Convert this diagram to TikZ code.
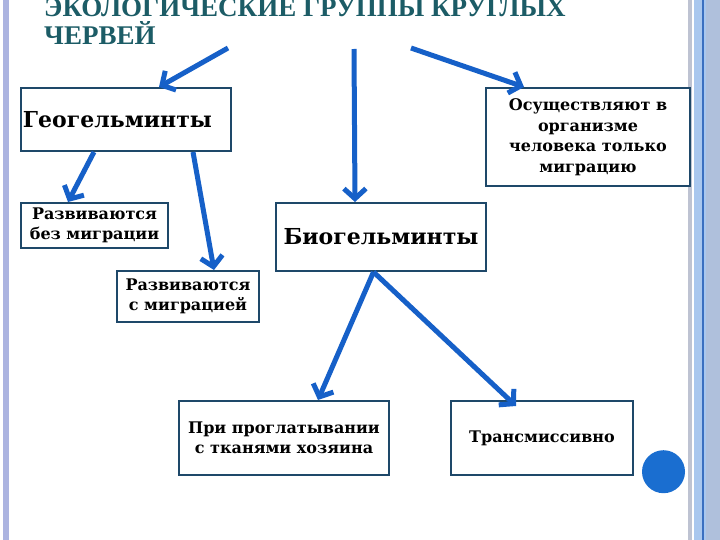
\documentclass[tikz,border=0pt]{standalone}
\usepackage{fontspec}
\setmainfont{DejaVu Serif}
\newfontfamily\titlefont{Liberation Serif}
\usetikzlibrary{arrows.meta,calc}
\definecolor{titlecol}{RGB}{28,92,102}
\definecolor{boxcol}{RGB}{30,72,105}
\definecolor{arrcol}{RGB}{22,96,200}
\definecolor{circcol}{RGB}{26,110,208}
\definecolor{leftstrip}{RGB}{172,180,224}
\definecolor{grayline}{RGB}{190,195,210}
\definecolor{lightblue}{RGB}{169,199,238}
\definecolor{darkline}{RGB}{58,111,192}
\definecolor{grayblue}{RGB}{175,192,220}
\begin{document}
\begin{tikzpicture}[x=1pt,y=-1pt,
  box/.style={draw=boxcol,line width=2pt,fill=white,inner sep=0pt,align=center,
    font=\bfseries\fontsize{16}{20.5}\selectfont},
  bigbox/.style={box,font=\bfseries\fontsize{22}{26}\selectfont},
  arr/.style={draw=arrcol,line width=5pt,-{Straight Barb[length=10pt,width=22pt]}}]
\useasboundingbox (0,0) rectangle (720,540);
\fill[white] (0,0) rectangle (720,540);
% frame strips
\fill[leftstrip] (3,0) rectangle (9,540);
\fill[grayline] (688,0) rectangle (692,540);
\fill[lightblue] (694,0) rectangle (706,540);
\fill[darkline] (702,0) rectangle (703.5,540);
\fill[grayblue] (706,0) rectangle (720,540);
% title (second line's baseline at y=45, first line above it)
\node[anchor=base west,inner sep=0pt,align=left,text=titlecol,
  font=\titlefont\bfseries\fontsize{27}{28}\selectfont] (title) at (44,45)
  {ЭКОЛОГИЧЕСКИЕ ГРУППЫ КРУГЛЫХ\\ЧЕРВЕЙ};
% boxes
\node[bigbox,anchor=north west,text width=206pt,inner xsep=2pt,align=left,
  minimum height=63pt] (geo) at (20,87) {Геогельминты};
\node[box,anchor=north west,minimum width=204pt,minimum height=98pt] (osu) at (485,87)
  {Осуществляют в\\организме\\человека только\\миграцию};
\node[box,anchor=north west,minimum width=147pt,minimum height=45pt] (bez) at (20,202)
  {Развиваются\\без миграции};
\node[bigbox,anchor=north west,minimum width=210pt,minimum height=68pt] (bio) at (275,202)
  {Биогельминты};
\node[box,anchor=north west,minimum width=142pt,minimum height=51pt] (smig) at (116,270)
  {Развиваются\\с миграцией};
\node[box,anchor=north west,minimum width=210pt,minimum height=74pt] (pri) at (178,400)
  {При проглатывании\\с тканями хозяина};
\node[box,anchor=north west,minimum width=182pt,minimum height=74pt] (tr) at (450,400)
  {Трансмиссивно};
% free starting points under the title
\coordinate (t1) at (228,48);
\coordinate (t2) at (354,49);
\coordinate (t3) at (411,48);
% arrows
\draw[arr] (t1) -- ([xshift=33pt]geo.north);
\draw[arr] (t2) -- ([xshift=-26pt]bio.north);
\draw[arr] (t3) -- ([xshift=-64pt]osu.north);
\draw[arr] ([xshift=-32pt]geo.south) -- ([xshift=-26.5pt]bez.north);
\draw[arr] ([xshift=67pt]geo.south) -- ([xshift=26pt]smig.north);
\draw[arr] ([xshift=-7.5pt]bio.south) -- ([xshift=34pt]pri.north);
\draw[arr] ([xshift=-7.5pt]bio.south) -- ([xshift=-26pt,yshift=-6pt]tr.north);
% decorative dot
\fill[circcol] (663.5,471.7) circle[radius=21.5pt];
\end{tikzpicture}
\end{document}
